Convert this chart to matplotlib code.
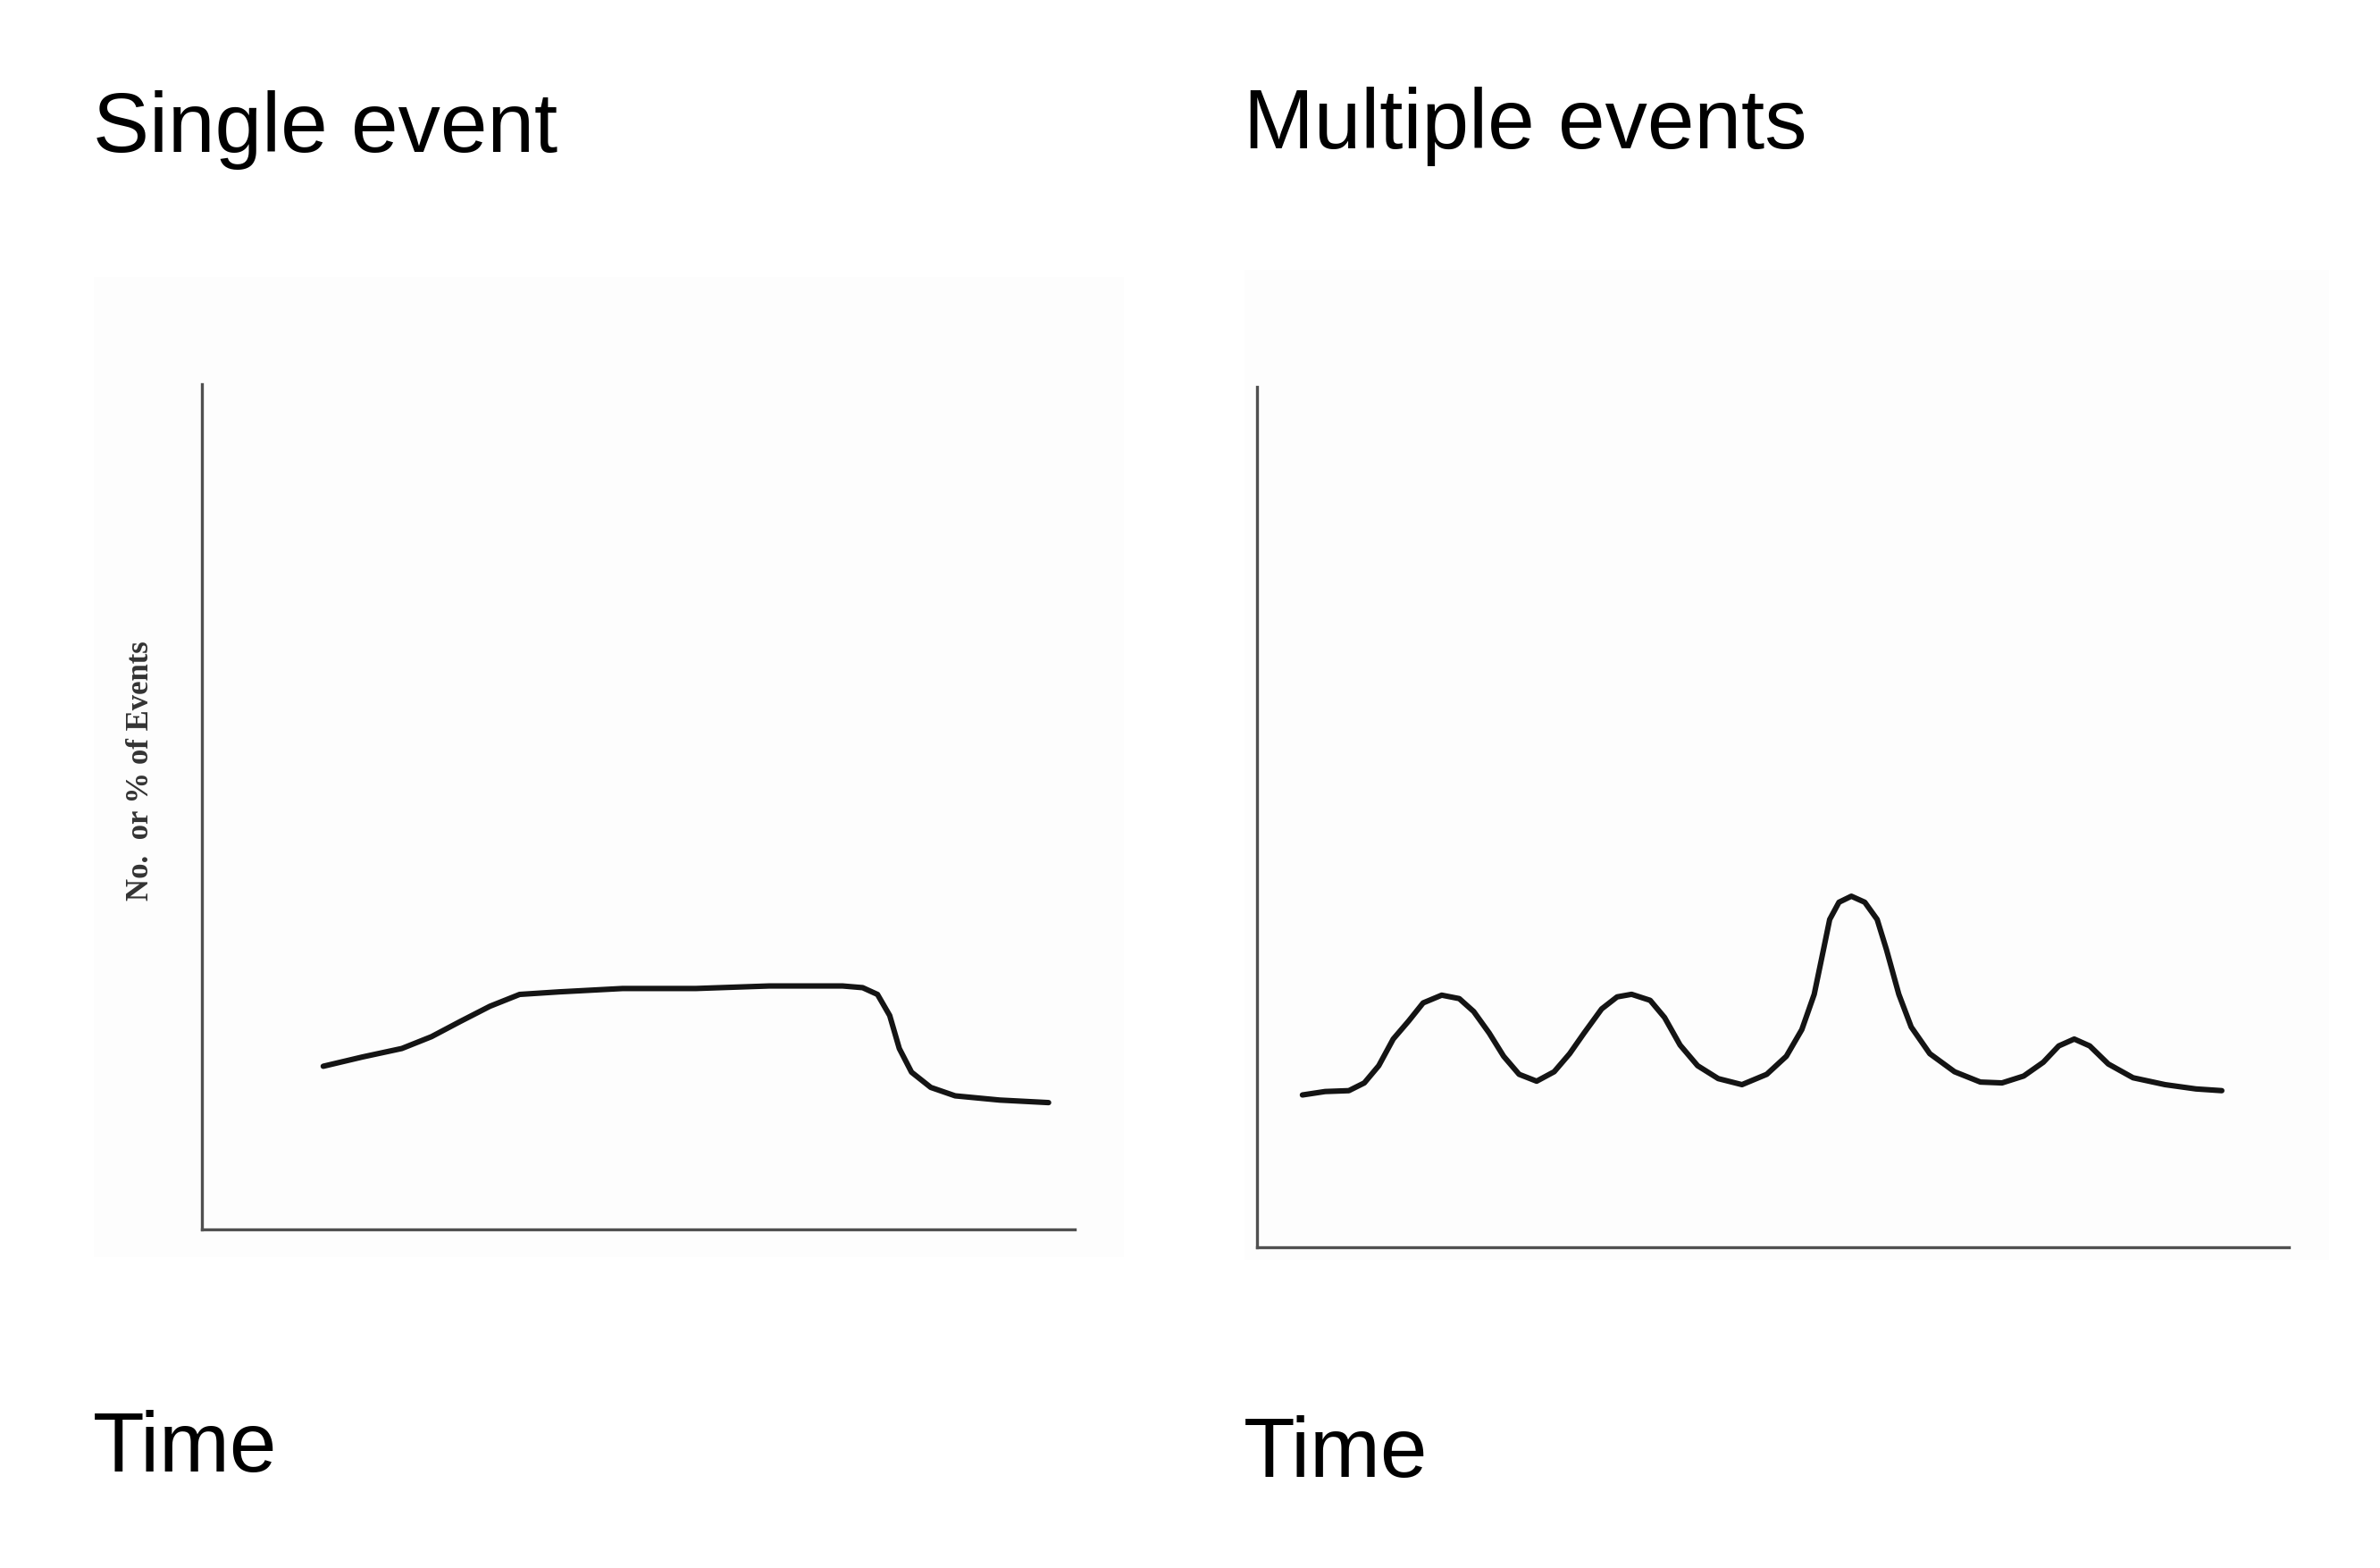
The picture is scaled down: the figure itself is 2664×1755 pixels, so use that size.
import matplotlib
matplotlib.use('Agg')
import matplotlib.pyplot as plt
from matplotlib.patches import Rectangle

# single event curve (time, no. of events)
single_t = [13.9, 18.4, 22.9, 26.3, 29.6, 33.0, 36.4, 40.9, 48.2, 56.6,
            65.0, 73.4, 75.7, 77.4, 78.8, 79.9, 81.3, 83.5, 86.3, 91.4, 97.0]
single_n = [19.3, 20.4, 21.4, 22.8, 24.6, 26.4, 27.8, 28.1, 28.5, 28.5,
            28.8, 28.8, 28.6, 27.8, 25.3, 21.4, 18.6, 16.8, 15.8, 15.3, 15.0]

# multiple events curve
multi_t = [4.4, 6.6, 8.9, 10.4, 11.8, 13.2, 14.7, 16.1, 17.9, 19.6,
           21.0, 22.5, 23.9, 25.4, 27.1, 28.8, 30.3, 31.7, 33.4, 34.9,
           36.3, 38.1, 39.5, 41.0, 42.7, 44.7, 47.0, 49.4, 51.3, 52.8,
           54.0, 54.9, 55.5, 56.4, 57.6, 58.9, 60.1, 61.0, 62.2, 63.4,
           65.2, 67.6, 70.1, 72.2, 74.3, 76.2, 77.7, 79.2, 80.7, 82.5,
           84.9, 88.0, 91.0, 93.5]
multi_n = [17.7, 18.1, 18.2, 19.1, 21.1, 24.2, 26.3, 28.4, 29.3, 28.9,
           27.4, 24.9, 22.2, 20.1, 19.3, 20.4, 22.5, 24.9, 27.7, 29.1,
           29.4, 28.7, 26.7, 23.5, 21.1, 19.6, 18.9, 20.1, 22.2, 25.3,
           29.4, 34.6, 38.1, 40.1, 40.8, 40.1, 38.1, 34.6, 29.4, 25.6,
           22.5, 20.4, 19.2, 19.1, 19.9, 21.5, 23.4, 24.2, 23.4, 21.3,
           19.7, 18.9, 18.4, 18.2]

titles = ['Single event', 'Multiple events']
xlabel = 'Time'
ylabel = 'No.  or % of Events'

W, H = 2664, 1755
fg = plt.figure(figsize=(W/100, H/100), dpi=100)
fg.patch.set_facecolor('white')

def fx(px):
    return px / W

def fy(py):
    return 1 - py / H

# faint scanned-paper boxes behind each graph
for x0, y0, x1, y1 in [(105, 310, 1258, 1407), (1393, 302, 2607, 1410)]:
    fg.patches.append(Rectangle((fx(x0), fy(y1)), fx(x1) - fx(x0), fy(y0) - fy(y1),
                                transform=fg.transFigure, facecolor='#fdfdfd',
                                edgecolor='none', zorder=-5))

ax1 = fg.add_axes([fx(226), fy(1376), fx(1203) - fx(226), fy(430) - fy(1376)])
ax2 = fg.add_axes([fx(1407), fy(1396), fx(2562) - fx(1407), fy(433) - fy(1396)])

for ax, t, n in [(ax1, single_t, single_n), (ax2, multi_t, multi_n)]:
    ax.set_zorder(2)
    ax.plot(t, n, color='#141414', linewidth=4.4, solid_joinstyle='round',
            solid_capstyle='round')
    ax.set_xlim(0, 100)
    ax.set_ylim(0, 100)
    ax.patch.set_alpha(0)
    for s in ['top', 'right']:
        ax.spines[s].set_visible(False)
    for s in ['left', 'bottom']:
        ax.spines[s].set_color('#505050')
        ax.spines[s].set_linewidth(2.4)
    ax.set_xticks([])
    ax.set_yticks([])

fg.text(fx(158), fy(863), ylabel, rotation=90, ha='center', va='center',
        family='Liberation Serif', weight='bold', fontsize=25, color='#333333')

sans = ['Liberation Sans', 'DejaVu Sans']
fg.text(fx(104), fy(170), titles[0], fontsize=68, family=sans, va='baseline')
fg.text(fx(1392), fy(166), titles[1], fontsize=68, family=sans, va='baseline')
fg.text(fx(104), fy(1647), xlabel, fontsize=68, family=sans, va='baseline')
fg.text(fx(1392), fy(1653), xlabel, fontsize=68, family=sans, va='baseline')

fg.savefig('out.png', dpi=100, facecolor='white')
